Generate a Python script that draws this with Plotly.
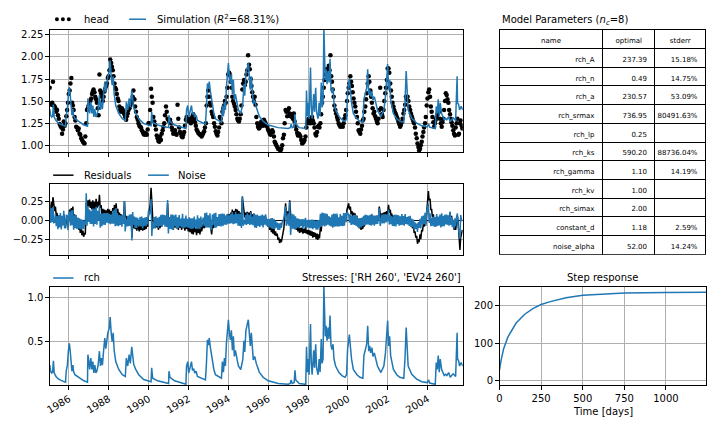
import numpy as np
import pandas as pd
import plotly.graph_objects as go

# ------------------------------------------------------------------ data
# recharge contribution "rch" (decimal year, value)
rch_points = [
    (1985.04, 0.23), (1985.08, 0.16), (1985.13, 0.14), (1985.18, 0.15), (1985.22, 0.28), (1985.26, 0.14),
    (1985.35, 0.10), (1985.45, 0.075), (1985.6, 0.055), (1985.75, 0.04), (1985.83, 0.035),
    (1985.86, 0.16), (1985.92, 0.23), (1985.97, 0.39), (1986.02, 0.48), (1986.06, 0.40), (1986.1, 0.25),
    (1986.15, 0.16), (1986.2, 0.23), (1986.23, 0.16), (1986.3, 0.12), (1986.45, 0.095), (1986.6, 0.07),
    (1986.75, 0.05), (1986.93, 0.035),
    (1986.95, 0.35), (1986.99, 0.29), (1987.04, 0.18), (1987.1, 0.31), (1987.15, 0.18), (1987.2, 0.27),
    (1987.25, 0.14), (1987.3, 0.23), (1987.35, 0.14), (1987.4, 0.16), (1987.46, 0.22), (1987.53, 0.39),
    (1987.58, 0.22), (1987.63, 0.31), (1987.68, 0.23), (1987.73, 0.37), (1987.8, 0.54), (1987.85, 0.42),
    (1987.9, 0.50), (1987.95, 0.60), (1988.02, 0.65), (1988.07, 0.78), (1988.12, 0.60), (1988.17, 0.50),
    (1988.22, 0.60), (1988.27, 0.40), (1988.35, 0.27), (1988.5, 0.18), (1988.68, 0.12), (1988.83, 0.10),
    (1988.88, 0.31), (1988.95, 0.22), (1989.02, 0.35), (1989.08, 0.25), (1989.15, 0.44), (1989.2, 0.35),
    (1989.25, 0.24), (1989.35, 0.18), (1989.5, 0.12), (1989.75, 0.065), (1990.05, 0.04), (1990.12, 0.04),
    (1990.15, 0.20), (1990.2, 0.08), (1990.45, 0.05), (1990.8, 0.03), (1991.0, 0.02), (1991.02, 0.16),
    (1991.07, 0.09), (1991.3, 0.05), (1991.6, 0.03), (1991.87, 0.01),
    (1991.9, 0.22), (1991.96, 0.27), (1992.01, 0.14), (1992.08, 0.20), (1992.15, 0.27), (1992.2, 0.17),
    (1992.26, 0.19), (1992.31, 0.14), (1992.38, 0.16), (1992.45, 0.10), (1992.55, 0.09), (1992.7, 0.07),
    (1992.85, 0.06),
    (1992.9, 0.25), (1992.95, 0.52), (1993.0, 0.46), (1993.04, 0.54), (1993.09, 0.44), (1993.15, 0.35),
    (1993.2, 0.29), (1993.27, 0.18), (1993.35, 0.12), (1993.5, 0.10), (1993.65, 0.08),
    (1993.7, 0.27), (1993.75, 0.15), (1993.8, 0.31), (1993.85, 0.22), (1993.9, 0.48), (1993.96, 0.71),
    (1994.0, 0.75), (1994.05, 0.60), (1994.1, 0.52), (1994.15, 0.63), (1994.2, 0.40), (1994.25, 0.56),
    (1994.3, 0.33), (1994.35, 0.40), (1994.42, 0.29), (1994.5, 0.22), (1994.62, 0.18),
    (1994.72, 0.29), (1994.78, 0.51), (1994.82, 0.38), (1994.88, 0.63), (1994.93, 0.69), (1995.0, 0.75),
    (1995.05, 0.60), (1995.1, 0.45), (1995.15, 0.60), (1995.2, 0.45), (1995.25, 0.29), (1995.32, 0.33),
    (1995.4, 0.25), (1995.55, 0.15), (1995.75, 0.09), (1996.0, 0.05), (1996.5, 0.02), (1997.0, 0.01),
    (1997.1, 0.02), (1997.15, 0.06), (1997.2, 0.02), (1997.3, 0.03), (1997.34, 0.17), (1997.38, 0.06),
    (1997.55, 0.02), (1997.88, 0.01),
    (1997.92, 0.44), (1997.96, 0.15), (1998.0, 0.30), (1998.05, 0.12), (1998.12, 0.70), (1998.16, 0.25),
    (1998.2, 0.12), (1998.28, 0.40), (1998.32, 0.20), (1998.38, 0.47), (1998.42, 0.20), (1998.5, 0.12),
    (1998.55, 0.30), (1998.6, 0.15), (1998.66, 0.53), (1998.7, 0.25), (1998.75, 0.30), (1998.79, 1.15),
    (1998.82, 0.79), (1998.86, 0.56), (1998.9, 0.68), (1998.95, 0.51), (1999.0, 0.66), (1999.05, 0.53),
    (1999.1, 0.80), (1999.15, 0.45), (1999.2, 0.41), (1999.25, 0.47), (1999.3, 0.30), (1999.38, 0.22),
    (1999.55, 0.145), (1999.7, 0.11), (1999.85, 0.09),
    (1999.93, 0.12), (1999.98, 0.41), (2000.07, 0.58), (2000.12, 0.45), (2000.18, 0.30), (2000.27, 0.18),
    (2000.45, 0.12), (2000.6, 0.09), (2000.75, 0.08),
    (2000.8, 0.34), (2000.86, 0.39), (2000.94, 0.47), (2000.99, 0.68), (2001.04, 0.39), (2001.09, 0.45),
    (2001.14, 0.37), (2001.2, 0.43), (2001.25, 0.33), (2001.32, 0.37), (2001.38, 0.30), (2001.48, 0.22),
    (2001.65, 0.145),
    (2001.8, 0.22), (2001.88, 0.37), (2001.93, 0.54), (2001.99, 0.74), (2002.04, 0.45), (2002.09, 0.56),
    (2002.14, 0.34), (2002.2, 0.26), (2002.28, 0.18), (2002.45, 0.12), (2002.6, 0.09), (2002.8, 0.08),
    (2002.86, 0.30), (2002.92, 0.66), (2002.97, 0.34), (2003.02, 0.22), (2003.2, 0.125), (2003.45, 0.07),
    (2003.7, 0.04), (2003.98, 0.03), (2004.05, 0.06), (2004.1, 0.025), (2004.38, 0.01),
    (2004.43, 0.26), (2004.48, 0.18), (2004.53, 0.34), (2004.58, 0.15), (2004.63, 0.30), (2004.7, 0.18),
    (2004.76, 0.145), (2004.83, 0.11), (2004.9, 0.125), (2004.96, 0.11), (2005.05, 0.145), (2005.13, 0.09),
    (2005.2, 0.11), (2005.28, 0.13), (2005.4, 0.10),
    (2005.455, 0.58), (2005.475, 0.60), (2005.495, 0.30), (2005.55, 0.28), (2005.6, 0.22), (2005.68, 0.26),
    (2005.76, 0.22),
]

# observed heads, measured on the 14th and 28th of every month
head_1985 = [1.65, 1.47, 1.46, 1.48, 1.72, 1.45, 1.44, 1.42, 1.38, 1.40, 1.34, 1.30, 1.24, 1.22, 1.20, 1.13, 1.18, 1.27, 1.22, 1.25, 1.33, 1.40, 1.48, 1.58]
head_1986 = [1.62, 1.70, 1.76, 1.48, 1.45, 1.40, 1.32, 1.28, 1.21, 1.20, 1.17, 1.19, 1.13, 1.12, 1.08, 1.06, 1.04, 1.03, 1.02, 1.10, 1.25, 1.40, 1.42, 1.45]
head_1987 = [1.45, 1.50, 1.53, 1.58, 1.61, 1.63, 1.60, 1.55, 1.52, 1.48, 1.42, 1.34, 1.80, 1.62, 1.59, 1.55, 1.50, 1.55, 1.61, 1.64, 1.67, 1.70, 1.76, 1.78]
head_1988 = [1.85, 1.97, 1.93, 1.89, 1.85, 1.78, 1.70, 1.65, 1.63, 1.58, 1.53, 1.50, 1.44, 1.40, 1.38, 1.42, 1.40, 1.38, 1.35, 1.32, 1.29, 1.33, 1.36, 1.40]
head_1989 = [1.42, 1.45, 1.50, 1.48, 1.55, 1.62, 1.52, 1.44, 1.38, 1.32, 1.29, 1.25, 1.22, 1.21, 1.20, 1.17, 1.15, 1.13, 1.12, 1.14, 1.13, 1.12, 1.18, 1.25]
head_1990 = [1.25, 1.40, 1.64, 1.55, 1.48, 1.32, 1.27, 1.23, 1.18, 1.11, 1.08, 1.05, 1.04, 1.10, 1.06, 1.13, 1.17, 1.21, 1.25, 1.34, 1.44, 1.38, 1.30, 1.29]
head_1991 = [1.27, 1.29, 1.25, 1.20, 1.17, 1.13, 1.15, 1.17, 1.13, 1.12, 1.46, 1.30, 1.20, 1.15, 1.13, 1.10, 1.09, 1.12, 1.15, 1.22, 1.29, 1.32, 1.28, 1.30]
head_1992 = [1.27, 1.30, 1.25, 1.28, 1.33, 1.35, 1.30, 1.26, 1.22, 1.18, 1.16, 1.14, 1.13, 1.12, 1.12, 1.10, 1.12, 1.14, 1.16, 1.20, 1.25, 1.45, 1.55, 1.62]
head_1993 = [1.55, 1.48, 1.45, 1.38, 1.35, 1.32, 1.25, 1.21, 1.16, 1.13, 1.11, 1.15, 1.20, 1.32, 1.30, 1.25, 1.38, 1.42, 1.45, 1.50, 1.48, 1.55, 1.65, 1.80]
head_1994 = [1.82, 1.80, 1.72, 1.65, 1.55, 1.50, 1.47, 1.44, 1.40, 1.35, 1.30, 1.28, 1.27, 1.30, 1.35, 1.45, 1.63, 1.70, 1.74, 1.68, 1.72, 1.80, 1.85, 2.02]
head_1995 = [1.91, 1.86, 1.75, 1.67, 1.60, 1.55, 1.50, 1.55, 1.46, 1.32, 1.25, 1.21, 1.19, 1.20, 1.24, 1.27, 1.25, 1.22, 1.29, 1.27, 1.25, 1.22, 1.21, 1.18]
head_1996 = [1.16, 1.13, 1.12, 1.15, 1.17, 1.15, 1.10, 1.04, 1.02, 1.00, 0.98, 0.96, 0.96, 0.95, 0.94, 0.96, 1.00, 1.08, 1.12, 1.25, 1.40, 1.38, 1.33, 1.40]
head_1997 = [1.42, 1.36, 1.33, 1.35, 1.32, 1.30, 1.36, 1.27, 1.22, 1.18, 1.14, 1.11, 1.13, 1.12, 1.10, 1.06, 1.02, 1.03, 1.04, 1.06, 1.10, 1.20, 1.25, 1.28]
head_1998 = [1.30, 1.27, 1.25, 1.29, 1.32, 1.28, 1.25, 1.20, 1.13, 1.11, 1.15, 1.21, 1.22, 1.20, 1.25, 1.35, 1.48, 1.55, 1.65, 1.74, 1.80, 1.86, 1.82, 1.86]
head_1999 = [1.90, 1.85, 2.02, 1.78, 1.72, 1.63, 1.55, 1.45, 1.40, 1.36, 1.32, 1.29, 1.25, 1.23, 1.21, 1.22, 1.23, 1.21, 1.25, 1.30, 1.34, 1.40, 1.50, 1.59]
head_2000 = [1.65, 1.70, 1.78, 1.72, 1.67, 1.60, 1.53, 1.48, 1.44, 1.38, 1.32, 1.25, 1.17, 1.15, 1.13, 1.18, 1.22, 1.28, 1.30, 1.38, 1.44, 1.52, 1.59, 1.70]
head_2001 = [1.78, 1.72, 1.62, 1.55, 1.48, 1.42, 1.36, 1.38, 1.33, 1.30, 1.27, 1.25, 1.30, 1.40, 1.65, 1.42, 1.35, 1.32, 1.40, 1.50, 1.59, 1.65, 1.74, 1.87]
head_2002 = [1.87, 1.82, 1.70, 1.62, 1.55, 1.48, 1.44, 1.40, 1.37, 1.35, 1.32, 1.30, 1.27, 1.24, 1.21, 1.23, 1.26, 1.30, 1.36, 1.40, 1.46, 1.55, 1.52, 1.55]
head_2003 = [1.50, 1.44, 1.40, 1.36, 1.33, 1.30, 1.27, 1.25, 1.20, 1.13, 1.08, 1.02, 0.98, 0.94, 0.96, 1.00, 1.04, 1.10, 1.15, 1.20, 1.25, 1.32, 1.45, 1.53]
head_2004 = [1.60, 1.63, 1.55, 1.44, 1.38, 1.32, 1.26, 1.21, 1.25, 1.29, 1.32, 1.35, 1.40, 1.38, 1.30, 1.25, 1.21, 1.26, 1.30, 1.40, 1.50, 1.59, 1.57, 1.52]
head_2005 = [1.48, 1.40, 1.35, 1.30, 1.26, 1.22, 1.17, 1.13, 1.11, 1.20, 1.25, 1.30, 1.12, 1.13, 1.25, 1.28, 1.22, 1.19]

res_1985 = [0.20, 0.12, 0.24, 0.16, 0.30, 0.20, 0.12, 0.18, 0.06, 0.10, -0.04, 0.04, -0.06, 0.05, -0.08, 0.00, -0.06, 0.08, -0.04, -0.10, 0.00, 0.06, -0.08, 0.04]
res_1986 = [0.14, 0.04, 0.16, 0.06, 0.18, 0.02, 0.08, -0.04, 0.04, -0.08, -0.02, -0.12, -0.06, -0.16, -0.10, -0.19, -0.13, -0.21, -0.16, -0.18, 0.22, 0.10, 0.26, 0.18]
res_1987 = [0.27, 0.16, 0.24, 0.14, 0.26, 0.12, 0.24, 0.14, 0.28, 0.16, 0.24, 0.18, 0.33, 0.16, 0.20, 0.08, 0.15, 0.06, 0.14, 0.05, 0.13, 0.07, 0.15, 0.08]
res_1988 = [0.14, 0.06, 0.12, 0.05, 0.16, 0.08, 0.20, 0.08, 0.22, 0.10, 0.15, 0.04, 0.10, 0.02, 0.08, -0.02, 0.06, 0.00, 0.25, 0.05, 0.05, -0.04, 0.03, -0.05]
res_1989 = [0.04, -0.04, 0.05, -0.22, -0.06, -0.10, -0.02, -0.11, -0.04, -0.13, -0.06, -0.10, -0.14, -0.06, -0.12, -0.04, -0.13, -0.07, -0.12, -0.05, -0.11, -0.04, -0.08, 0.06]
res_1990 = [0.12, 0.20, 0.42, 0.12, 0.06, -0.06, 0.00, -0.10, -0.02, -0.09, -0.03, -0.12, -0.04, -0.10, 0.00, -0.08, 0.02, -0.04, 0.04, -0.05, 0.03, -0.06, 0.22, 0.00]
res_1991 = [0.04, -0.08, 0.02, -0.10, 0.00, -0.12, -0.02, -0.09, 0.01, -0.10, -0.03, -0.12, -0.02, -0.09, -0.04, -0.12, 0.00, -0.10, -0.05, -0.13, -0.03, -0.11, -0.06, -0.14]
res_1992 = [-0.06, -0.15, -0.08, -0.17, -0.10, -0.18, -0.08, -0.15, -0.10, -0.19, -0.07, -0.16, -0.09, -0.18, -0.08, -0.14, -0.10, -0.04, -0.10, 0.02, -0.08, 0.04, -0.06, 0.02]
res_1993 = [-0.08, 0.03, -0.10, -0.18, -0.06, -0.10, 0.02, -0.08, 0.04, -0.06, 0.00, -0.07, 0.03, -0.05, 0.05, -0.04, 0.06, -0.02, 0.07, 0.00, 0.06, -0.01, 0.08, 0.02]
res_1994 = [0.08, 0.02, 0.10, 0.04, 0.14, 0.06, 0.12, 0.05, 0.15, 0.08, 0.14, 0.04, 0.12, 0.02, 0.10, -0.02, 0.30, 0.16, 0.12, 0.04, 0.10, 0.02, 0.11, 0.04]
res_1995 = [0.10, 0.02, 0.12, 0.04, 0.08, 0.00, 0.09, -0.02, 0.06, -0.05, 0.04, -0.04, 0.03, -0.06, 0.02, -0.05, 0.04, -0.06, 0.02, -0.04, 0.05, -0.03, 0.00, -0.08]
res_1996 = [-0.04, -0.12, -0.06, -0.15, -0.08, -0.17, -0.10, -0.19, -0.14, -0.20, -0.17, -0.25, -0.22, -0.29, -0.24, -0.28, -0.22, -0.18, -0.10, 0.05, 0.22, 0.10, 0.04, 0.12]
res_1997 = [0.02, 0.26, 0.00, -0.06, 0.04, -0.08, 0.02, -0.10, -0.02, -0.12, -0.06, -0.14, -0.08, -0.16, -0.10, -0.15, -0.09, -0.17, -0.11, -0.16, -0.08, -0.17, -0.12, -0.18]
res_1998 = [-0.12, -0.19, -0.13, -0.20, -0.14, -0.22, -0.15, -0.21, -0.16, -0.24, -0.17, -0.25, -0.18, -0.23, -0.08, -0.14, 0.00, -0.06, 0.05, -0.04, 0.06, -0.02, 0.07, 0.00]
res_1999 = [0.05, -0.03, 0.02, -0.06, 0.03, -0.07, 0.04, -0.05, 0.05, -0.04, 0.06, -0.03, 0.02, -0.06, 0.04, -0.04, 0.03, -0.05, 0.06, -0.02, 0.08, 0.04, 0.14, 0.20]
res_2000 = [0.22, 0.14, 0.18, 0.08, 0.12, 0.04, 0.10, 0.02, 0.09, 0.00, 0.06, -0.04, 0.00, -0.10, -0.04, -0.12, -0.05, -0.11, -0.02, -0.08, 0.02, -0.04, 0.04, -0.02]
res_2001 = [0.05, -0.02, 0.06, -0.02, 0.07, 0.00, 0.06, -0.02, 0.05, -0.01, 0.06, 0.00, 0.03, 0.18, 0.06, 0.02, 0.09, 0.03, 0.10, 0.04, 0.11, 0.06, 0.12, 0.08]
res_2002 = [0.20, 0.10, 0.14, 0.06, 0.09, 0.00, 0.07, -0.02, 0.06, -0.03, 0.05, -0.01, 0.06, -0.02, 0.04, -0.03, 0.06, -0.01, 0.05, -0.03, 0.06, 0.00, 0.04, -0.02]
res_2003 = [0.04, -0.04, 0.03, -0.06, -0.02, -0.10, -0.06, -0.16, -0.14, -0.22, -0.20, -0.30, -0.24, -0.28, -0.18, -0.24, -0.12, -0.14, -0.04, -0.08, 0.04, -0.04, 0.10, 0.22]
res_2004 = [0.38, 0.26, 0.28, 0.14, 0.14, 0.04, 0.08, -0.02, 0.03, -0.06, 0.04, -0.04, 0.02, -0.05, 0.04, -0.06, 0.05, -0.04, 0.03, -0.05, 0.04, -0.02, 0.06, -0.01]
res_2005 = [0.06, -0.02, 0.10, 0.02, 0.06, -0.04, -0.02, -0.12, -0.06, -0.12, -0.04, 0.06, -0.04, -0.20, -0.38, -0.22, -0.16, -0.12]

# step response of the recharge stress
step_days = [0, 5, 10, 25, 50, 100, 150, 200, 250, 300, 400, 500, 600, 750, 1000, 1241]
step_values = [28, 42, 55, 85, 116, 154, 177, 193, 204, 211, 222, 229, 232, 235, 236.5, 237.2]

# parameter table
param_names = ["rch_A", "rch_n", "rch_a", "rch_srmax", "rch_lp", "rch_ks", "rch_gamma",
               "rch_kv", "rch_simax", "constant_d", "noise_alpha"]
param_optimal = [237.39, 0.49, 230.57, 736.95, 0.25, 590.20, 1.10, 1.00, 2.00, 1.18, 52.00]
param_stderr = [15.18, 14.75, 53.09, 80491.63, None, 88736.04, 14.19, None, None, 2.59, 14.24]

constant_d = 1.18
noise_alpha = 52.0
r2_text = "68.31%"
stress_names = ["RH 260", "EV24 260"]

# ------------------------------------------------------------------ derived series
def dec_to_date(v):
    v = np.asarray(v, float)
    yrs = np.floor(v).astype(int)
    base = pd.to_datetime([f"{y}-01-01" for y in yrs])
    return base + pd.to_timedelta((v - yrs) * 365.25, unit="D")

rch_t = dec_to_date([p[0] for p in rch_points])
rch_v = np.array([p[1] for p in rch_points])
sim_v = rch_v + constant_d

head_by_year = {1985: head_1985, 1986: head_1986, 1987: head_1987, 1988: head_1988, 1989: head_1989,
                1990: head_1990, 1991: head_1991, 1992: head_1992, 1993: head_1993, 1994: head_1994,
                1995: head_1995, 1996: head_1996, 1997: head_1997, 1998: head_1998, 1999: head_1999,
                2000: head_2000, 2001: head_2001, 2002: head_2002, 2003: head_2003, 2004: head_2004,
                2005: head_2005}
res_by_year = {1985: res_1985, 1986: res_1986, 1987: res_1987, 1988: res_1988, 1989: res_1989,
               1990: res_1990, 1991: res_1991, 1992: res_1992, 1993: res_1993, 1994: res_1994,
               1995: res_1995, 1996: res_1996, 1997: res_1997, 1998: res_1998, 1999: res_1999,
               2000: res_2000, 2001: res_2001, 2002: res_2002, 2003: res_2003, 2004: res_2004,
               2005: res_2005}

def obs_dates(year, n):
    return [pd.Timestamp(year, m, d) for m in range(1, 13) for d in (14, 28)][:n]

head_t, head_v, res_t, res_v = [], [], [], []
for yr, vals in head_by_year.items():
    head_t += obs_dates(yr, len(vals))
    head_v += vals
    rv = res_by_year[yr]
    res_t += obs_dates(yr, len(rv))
    res_v += rv
head_t = pd.DatetimeIndex(head_t)
res_t = pd.DatetimeIndex(res_t)
head_v = np.array(head_v)
resid = np.array(res_v)

def days(ix):
    return np.asarray((ix - pd.Timestamp("1970-01-01")) / pd.Timedelta("1D"), float)

dt = np.diff(days(res_t))
noise = np.concatenate([[resid[0]], resid[1:] - np.exp(-dt / noise_alpha) * resid[:-1]])

# ------------------------------------------------------------------ figure
W, H = 712, 424
FONT = "DejaVu Sans"
BLUE = "#1f77b4"
xr = ["1985-01-13", "2005-10-05"]

def px(x):
    return x / W

def py(y):
    return 1 - y / H

fig = go.Figure()

fig.add_trace(go.Scatter(x=head_t, y=head_v, mode="markers", marker=dict(color="black", size=4.5),
                         xaxis="x", yaxis="y", showlegend=False))
fig.add_trace(go.Scatter(x=rch_t, y=sim_v, mode="lines", line=dict(color=BLUE, width=1.5),
                         xaxis="x", yaxis="y", showlegend=False))
# zero reference line of the residual panel
fig.add_trace(go.Scatter(x=[pd.Timestamp(xr[0]), pd.Timestamp(xr[1])], y=[0, 0], mode="lines",
                         line=dict(color="black", width=1), xaxis="x2", yaxis="y2", showlegend=False))
fig.add_trace(go.Scatter(x=res_t, y=resid, mode="lines", line=dict(color="black", width=1.5),
                         xaxis="x2", yaxis="y2", showlegend=False))
fig.add_trace(go.Scatter(x=res_t, y=noise, mode="lines", line=dict(color=BLUE, width=1.5),
                         xaxis="x2", yaxis="y2", showlegend=False))
fig.add_trace(go.Scatter(x=rch_t, y=rch_v, mode="lines", line=dict(color=BLUE, width=1.5),
                         xaxis="x3", yaxis="y3", showlegend=False))
fig.add_trace(go.Scatter(x=step_days, y=step_values, mode="lines", line=dict(color=BLUE, width=1.5),
                         xaxis="x4", yaxis="y4", showlegend=False))

stderr_txt = ["" if s is None else f"{s:.2f}%" for s in param_stderr]
fig.add_trace(go.Table(
    domain=dict(x=[px(498), px(706)], y=[py(256), py(29)]),
    columnwidth=[104, 53, 51],
    header=dict(values=["name", "optimal", "stderr"], align="center", height=18.7,
                line=dict(color="black", width=1), fill=dict(color="white"),
                font=dict(family=FONT, size=7, color="black")),
    cells=dict(values=[param_names, [f"{v:.2f}" for v in param_optimal], stderr_txt],
               align="right", height=18.7, line=dict(color="black", width=1),
               fill=dict(color="white"), font=dict(family=FONT, size=7, color="black")),
))

ax = dict(showline=True, linecolor="black", linewidth=0.8, mirror=True, ticks="outside", ticklen=3.5,
          tickwidth=0.8, tickcolor="black", showgrid=True, gridcolor="#b0b0b0", gridwidth=0.8,
          zeroline=False, tickfont=dict(family=FONT, size=10, color="black"))
dax = dict(ax, type="date", range=xr, tick0="1986-01-01", dtick="M24", tickformat="%Y")

xd = [px(45), px(461)]
fig.update_layout(
    width=W, height=H, margin=dict(l=0, r=0, t=0, b=0), autosize=False,
    paper_bgcolor="white", plot_bgcolor="white", showlegend=False,
    font=dict(family=FONT, size=10, color="black"),
    xaxis=dict(dax, domain=xd, anchor="y", showticklabels=False),
    yaxis=dict(ax, domain=[py(152), py(29)], anchor="x", range=[0.921, 2.306],
               tickvals=[1.0, 1.25, 1.5, 1.75, 2.0, 2.25], tickformat=".2f"),
    xaxis2=dict(dax, domain=xd, anchor="y2", showticklabels=False),
    yaxis2=dict(ax, domain=[py(255), py(184)], anchor="x2", range=[-0.442, 0.468],
                tickvals=[-0.25, 0, 0.25], tickformat=".2f"),
    xaxis3=dict(dax, domain=xd, anchor="y3", tickangle=-30),
    yaxis3=dict(ax, domain=[py(386), py(287)], anchor="x3", range=[0, 1.13],
                tickvals=[0.5, 1.0], tickformat=".1f"),
    xaxis4=dict(ax, domain=[px(498), px(706)], anchor="y4", range=[0, 1241],
                tickvals=[0, 250, 500, 750, 1000]),
    yaxis4=dict(ax, domain=[py(386), py(287)], anchor="x4", range=[-13.4, 252],
                tickvals=[0, 100, 200]),
)

shapes = []

def legline(x0, x1, y, color):
    shapes.append(dict(type="line", xref="paper", yref="paper", x0=px(x0), x1=px(x1),
                       y0=py(y), y1=py(y), line=dict(color=color, width=1.5)))

for xc in (52.3, 58.3, 64.3):
    r = 2.0
    shapes.append(dict(type="circle", xref="paper", yref="paper",
                       x0=px(xc - r), x1=px(xc + r), y0=py(18.3 + r), y1=py(18.3 - r),
                       fillcolor="black", line=dict(width=0)))
legline(125, 142, 18.3, BLUE)
legline(48.5, 69, 175, "black")
legline(144, 165, 175, BLUE)
legline(48.5, 69, 278.3, BLUE)

annotations = []

def txt(x, y, s, xanchor="left", size=10):
    annotations.append(dict(x=px(x), y=py(y), xref="paper", yref="paper", text=s, showarrow=False,
                            xanchor=xanchor, yanchor="middle",
                            font=dict(family=FONT, size=size, color="black")))

txt(77.5, 18.3, "head")
txt(151, 18.3, f"Simulation (<i>R</i><sup>2</sup>={r2_text})")
txt(77.5, 175, "Residuals")
txt(172.5, 175, "Noise")
txt(77.5, 278.3, "rch")
txt(461.5, 278.3, "Stresses: [" + ", ".join(f"'{s}'" for s in stress_names) + "]", xanchor="right")
txt(602, 278.3, "Step response", xanchor="center")
txt(602, 412, "Time [days]", xanchor="center")
txt(498.5, 19.5, f"Model Parameters (<i>n</i><sub><i>c</i></sub>=8)")

fig.update_layout(shapes=shapes, annotations=annotations)

fig.write_html("out.html", config=dict(displayModeBar=False))
